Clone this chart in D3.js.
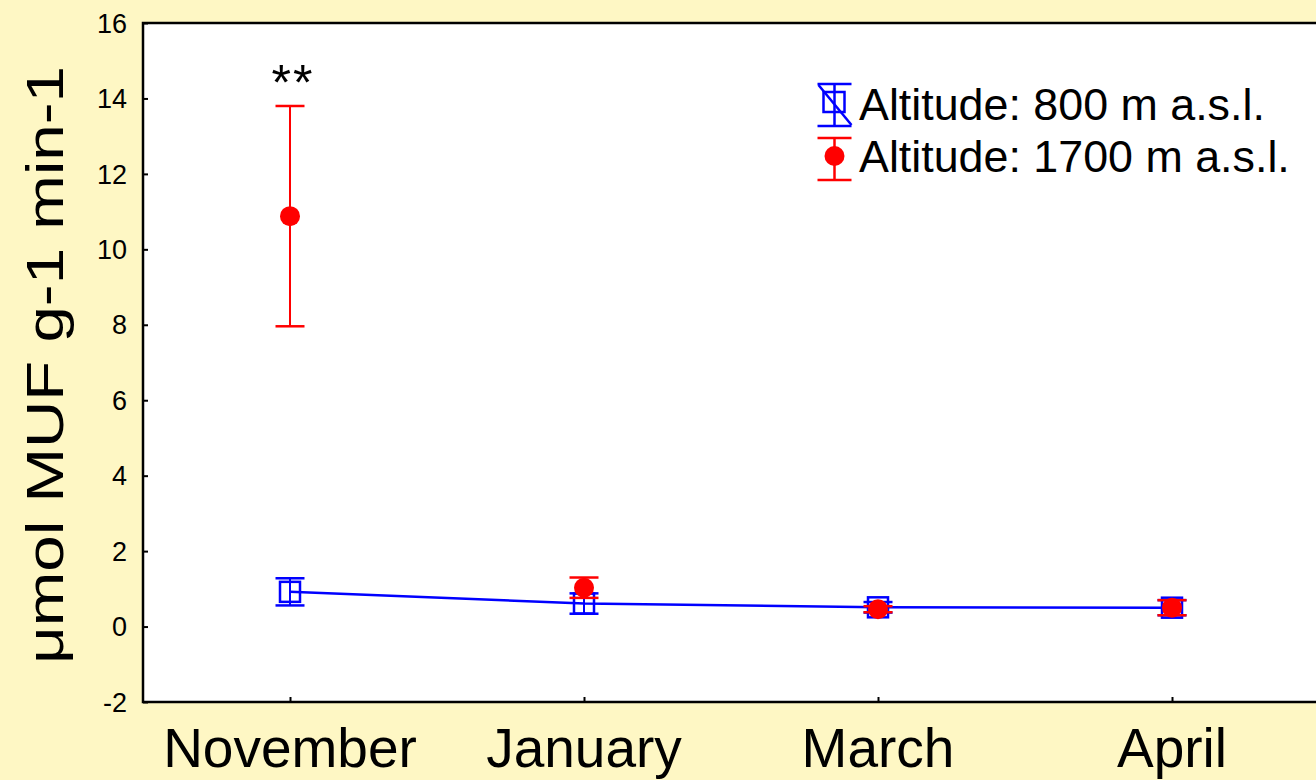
<!DOCTYPE html>
<html>
<head>
<meta charset="utf-8">
<script src="https://cdn.jsdelivr.net/npm/d3@7"></script>
<style>
  html, body { margin: 0; padding: 0; background: #FEF7C4; }
  svg { display: block; }
  text { font-family: "Liberation Sans", Arial, sans-serif; fill: #000; }
</style>
</head>
<body>
<svg id="chart" width="1316" height="780"></svg>
<script>
// Sampling months
const months = ["November", "January", "March", "April"];

// Altitude 800 m a.s.l. — mean and half-width of the error bar
const low800Mean = [0.92, 0.61, 0.51, 0.50];
const low800Err  = [0.36, 0.27, 0.14, 0.20];

// Altitude 1700 m a.s.l. — mean and half-width of the error bar
const high1700Mean = [10.88, 1.03, 0.46, 0.50];
const high1700Err  = [2.92, 0.27, 0.08, 0.20];

// Y axis ticks
const yTicks = [-2, 0, 2, 4, 6, 8, 10, 12, 14, 16];

const seriesNames = ["Altitude: 800 m a.s.l.", "Altitude: 1700 m a.s.l."];
const yTitle = "μmol MUF g-1 min-1";
const signif = "**";

const svg = d3.select("#chart");
const plot = { left: 143, top: 23, right: 1319, bottom: 702 };

const x = d3.scalePoint().domain(months).range([plot.left, plot.right]).padding(0.5);
const y = d3.scaleLinear().domain([-2, 16]).range([plot.bottom, plot.top]);

const BLUE = "#0000FF", RED = "#FF0000";

// plot area
svg.append("rect")
  .attr("x", plot.left).attr("y", plot.top)
  .attr("width", plot.right - plot.left).attr("height", plot.bottom - plot.top)
  .attr("fill", "#fff").attr("stroke", "#000").attr("stroke-width", 2.5);

// y axis: inward ticks
const yAxis = d3.axisRight(y).tickValues(yTicks).tickSize(5).tickFormat("");
svg.append("g").attr("transform", `translate(${plot.left},0)`).call(yAxis)
  .call(g => g.select(".domain").remove())
  .call(g => g.selectAll("line").attr("stroke-width", 2));
svg.append("g").selectAll("text").data(yTicks).join("text")
  .attr("x", plot.left - 16).attr("y", d => y(d)).attr("dy", "0.36em")
  .attr("text-anchor", "end").style("font-size", "27px")
  .text(d => d);

// x axis: inward ticks
const xAxis = d3.axisTop(x).tickSize(5).tickFormat("");
svg.append("g").attr("transform", `translate(0,${plot.bottom})`).call(xAxis)
  .call(g => g.select(".domain").remove())
  .call(g => g.selectAll("line").attr("stroke-width", 2));
svg.append("g").selectAll("text").data(months).join("text")
  .attr("x", d => x(d)).attr("y", 767)
  .attr("text-anchor", "middle").style("font-size", "55px")
  .text(d => d);

// y title
svg.append("text")
  .attr("transform", `translate(63,365) rotate(-90)`)
  .attr("text-anchor", "middle").style("font-size", "52px")
  .attr("textLength", 598).attr("lengthAdjust", "spacingAndGlyphs")
  .text(yTitle);

// error bars helper
function errorBars(g, means, errs, color, capW) {
  const sel = g.selectAll("g.eb").data(months).join("g").attr("class", "eb");
  sel.append("line")
    .attr("x1", d => x(d)).attr("x2", d => x(d))
    .attr("y1", (d, i) => y(means[i] + errs[i])).attr("y2", (d, i) => y(means[i] - errs[i]))
    .attr("stroke", color).attr("stroke-width", 2);
  [1, -1].forEach(s => {
    sel.append("line")
      .attr("x1", d => x(d) - capW / 2).attr("x2", d => x(d) + capW / 2)
      .attr("y1", (d, i) => y(means[i] + s * errs[i])).attr("y2", (d, i) => y(means[i] + s * errs[i]))
      .attr("stroke", color).attr("stroke-width", 2.5);
  });
}

// 800 m series: line + square markers
const gBlue = svg.append("g");
gBlue.append("path")
  .datum(low800Mean)
  .attr("d", d3.line().x((d, i) => x(months[i])).y(d => y(d)))
  .attr("fill", "none").attr("stroke", BLUE).attr("stroke-width", 2.5);
errorBars(gBlue, low800Mean, low800Err, BLUE, 29);
gBlue.selectAll("rect.m").data(low800Mean).join("rect").attr("class", "m")
  .attr("x", (d, i) => x(months[i]) - 10).attr("y", d => y(d) - 10)
  .attr("width", 20).attr("height", 20)
  .attr("fill", "none").attr("stroke", BLUE).attr("stroke-width", 2.5);

// 1700 m series: filled circles
const gRed = svg.append("g");
errorBars(gRed, high1700Mean, high1700Err, RED, 29);
gRed.selectAll("circle").data(high1700Mean).join("circle")
  .attr("cx", (d, i) => x(months[i])).attr("cy", d => y(d)).attr("r", 10)
  .attr("fill", RED);

// significance mark
svg.append("text")
  .attr("x", x(months[0]) + 3).attr("y", 100)
  .attr("text-anchor", "middle").style("font-size", "50px")
  .style("letter-spacing", "2px")
  .text(signif);

// legend
const lg = svg.append("g");
const lx = 834.5;
// 800 m entry
lg.append("line").attr("x1", lx).attr("x2", lx).attr("y1", 84).attr("y2", 126).attr("stroke", BLUE).attr("stroke-width", 2.5);
[84, 126].forEach(v => lg.append("line").attr("x1", lx - 17).attr("x2", lx + 17).attr("y1", v).attr("y2", v).attr("stroke", BLUE).attr("stroke-width", 2.5));
lg.append("line").attr("x1", lx - 16).attr("y1", 85).attr("x2", lx + 17).attr("y2", 125).attr("stroke", BLUE).attr("stroke-width", 2.5);
lg.append("rect").attr("x", lx - 11).attr("y", 92).attr("width", 21).attr("height", 20)
  .attr("fill", "none").attr("stroke", BLUE).attr("stroke-width", 2.5);
// 1700 m entry
lg.append("line").attr("x1", lx).attr("x2", lx).attr("y1", 138).attr("y2", 180).attr("stroke", RED).attr("stroke-width", 2.5);
[138, 180].forEach(v => lg.append("line").attr("x1", lx - 17).attr("x2", lx + 17).attr("y1", v).attr("y2", v).attr("stroke", RED).attr("stroke-width", 2.5));
lg.append("circle").attr("cx", lx).attr("cy", 156).attr("r", 10).attr("fill", RED);
lg.selectAll("text").data(seriesNames).join("text")
  .attr("x", 859).attr("y", (d, i) => 120 + i * 52)
  .style("font-size", "44.8px")
  .text(d => d);
</script>
</body>
</html>
